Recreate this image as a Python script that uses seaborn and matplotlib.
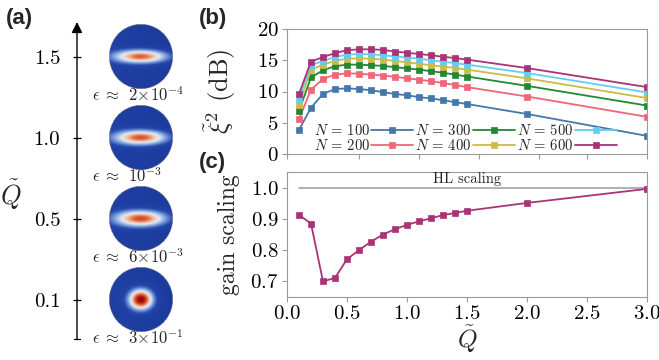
import numpy as np
import pandas as pd
import matplotlib
matplotlib.use("Agg")
import matplotlib.pyplot as plt
from matplotlib.colors import LinearSegmentedColormap
import seaborn as sns

# ---------------- data ----------------
Q = [0.1, 0.2, 0.3, 0.4, 0.5, 0.6, 0.7, 0.8, 0.9, 1.0, 1.1, 1.2, 1.3, 1.4, 1.5, 2.0, 3.0]
N_values = [100, 200, 300, 400, 500, 600]
xi_N100 = [3.85, 7.4, 9.6, 10.4, 10.5, 10.4, 10.2, 9.9, 9.6, 9.4, 9.1, 8.9, 8.6, 8.3, 8.0, 6.4, 2.9]
xi_N200 = [5.6, 10.3, 12.0, 12.7, 12.9, 12.85, 12.7, 12.55, 12.35, 12.1, 11.9, 11.65, 11.35, 11.05, 10.7, 9.2, 5.95]
xi_N300 = [6.9, 12.25, 13.4, 14.05, 14.3, 14.3, 14.2, 14.1, 13.9, 13.7, 13.5, 13.25, 13.0, 12.7, 12.4, 10.9, 7.75]
xi_N400 = [7.9, 13.5, 14.3, 14.9, 15.25, 15.3, 15.25, 15.1, 14.9, 14.65, 14.45, 14.2, 14.0, 13.75, 13.5, 12.1, 8.95]
xi_N500 = [8.8, 14.2, 14.9, 15.5, 15.9, 16.0, 15.95, 15.8, 15.6, 15.45, 15.25, 15.0, 14.75, 14.55, 14.3, 12.95, 9.85]
xi_N600 = [9.6, 14.8, 15.5, 16.15, 16.6, 16.75, 16.75, 16.65, 16.4, 16.2, 16.0, 15.8, 15.55, 15.35, 15.1, 13.75, 10.7]
gain = [0.913, 0.885, 0.700, 0.711, 0.771, 0.800, 0.827, 0.850, 0.867, 0.881, 0.892, 0.902, 0.912, 0.919, 0.926, 0.951, 0.996]
HL_level = 1.0
HL_range = [0.1, 3.0]

panel_a_Q = ["0.1", "0.5", "1.0", "1.5"]
panel_a_eps = [r"$\epsilon\;\approx\;\,3\!\times\!10^{-1}$", r"$\epsilon\;\approx\;\,6\!\times\!10^{-3}$",
               r"$\epsilon\;\approx\;\,10^{-3}$", r"$\epsilon\;\approx\;\,2\!\times\!10^{-4}$"]

colors = ["#4477AA", "#EE6677", "#228833", "#CCBB44", "#66CCEE", "#AA3377"]

# ---------------- style ----------------
sns.set_theme(style="ticks")
plt.rcParams.update({
    "font.family": "serif",
    "font.serif": ["cmr10"],
    "mathtext.fontset": "cm",
    "axes.formatter.use_mathtext": True,
    "axes.unicode_minus": False,
    "axes.edgecolor": "#9a9a9a",
    "axes.linewidth": 0.8,
    "xtick.color": "#9a9a9a",
    "ytick.color": "#9a9a9a",
    "xtick.labelcolor": "black",
    "ytick.labelcolor": "black",
    "xtick.major.size": 3.5,
    "ytick.major.size": 3.5,
    "xtick.major.width": 0.8,
    "ytick.major.width": 0.8,
    "xtick.labelsize": 15,
    "ytick.labelsize": 15,
})

W, H = 659, 360
fig = plt.figure(figsize=(W / 100, H / 100), dpi=100)

def rect(l, t, r, b):
    return [l / W, 1 - b / H, (r - l) / W, (b - t) / H]

ax_b = fig.add_axes(rect(287, 29, 647, 154))
ax_c = fig.add_axes(rect(287, 172, 647, 297))
ax_a = fig.add_axes(rect(77, 22, 200, 339))

# ---------------- panel (b) ----------------
series = [xi_N100, xi_N200, xi_N300, xi_N400, xi_N500, xi_N600]
for N, ys, c in zip(N_values, series, colors):
    sns.lineplot(x=Q, y=ys, ax=ax_b, color=c, marker="s", markersize=4.2,
                 markeredgecolor=c, markeredgewidth=0.5, linewidth=1.3,
                 label=rf"$N\,=\,{N}$")
ax_b.set_xlim(0, 3)
ax_b.set_ylim(0, 20)
ax_b.set_yticks([0, 5, 10, 15, 20])
ax_b.set_xticks([0, 0.6, 1.1, 1.6, 2.1, 2.5, 3.0])
ax_b.set_xticklabels([])
ax_b.tick_params(axis="y", pad=2.5)
ax_b.set_ylabel(r"$\tilde{\xi}^2$ (dB)", fontsize=19)
ax_b.yaxis.set_label_coords(-0.135, 0.5)
leg = ax_b.legend(ncol=3, loc="lower left", bbox_to_anchor=(0.045, -0.075), frameon=False,
                  markerfirst=False, fontsize=10.6, handlelength=2.85, handletextpad=0.12,
                  columnspacing=0.12, labelspacing=0.0, borderpad=0.2)

# ---------------- panel (c) ----------------
sns.lineplot(x=HL_range, y=[HL_level, HL_level], ax=ax_c, color="#aaaaaa", linewidth=1.3)
sns.lineplot(x=Q, y=gain, ax=ax_c, color=colors[5], marker="s", markersize=4.2,
             markeredgecolor=colors[5], markeredgewidth=0.5, linewidth=1.3)
ax_c.text(1.5, HL_level + 0.005, "HL scaling", ha="center", va="bottom", fontsize=10.5)
ax_c.set_xlim(0, 3)
ax_c.set_ylim(0.65, 1.05)
ax_c.set_yticks([0.7, 0.8, 0.9, 1.0])
ax_c.set_xticks([0, 0.5, 1.0, 1.5, 2.0, 2.5, 3.0])
ax_c.tick_params(axis="both", pad=2.5)
ax_c.set_ylabel("gain scaling", fontsize=17)
ax_c.yaxis.set_label_coords(-0.13, 0.5)
ax_c.set_xlabel(r"$\tilde{Q}$", fontsize=18, labelpad=0)

# ---------------- panel (a) ----------------
for s in ["top", "right", "bottom", "left"]:
    ax_a.spines[s].set_visible(False)
ax_a.set_xlim(0, 123)
ax_a.set_ylim(-0.48, 3.43)
ax_a.set_xticks([])
ax_a.set_yticks(range(len(panel_a_Q)), labels=panel_a_Q)
ax_a.tick_params(axis="y", direction="inout", length=6, color="black", width=0.9, pad=9, labelsize=15)
ax_a.annotate("", xy=(0, 1.0), xytext=(0, 0.0), xycoords="axes fraction",
              arrowprops=dict(arrowstyle="-|>", color="black", lw=1.0, mutation_scale=16,
                              shrinkA=0, shrinkB=0))
ax_a.plot([-3, 3], [-0.48, -0.48], color="black", lw=0.9, clip_on=False)
ax_a.text(-0.54, 0.455, r"$\tilde{Q}$", fontsize=19, ha="center", va="center",
          transform=ax_a.transAxes)

cmap = LinearSegmentedColormap.from_list(
    "sph", [(0.0, "#1b3a9c"), (0.15, "#2446ab"), (0.33, "#86a8e0"), (0.5, "#e4ecf6"),
            (0.64, "#f3bfa0"), (0.8, "#dc5a36"), (1.0, "#a30808")])
cmap.set_bad(alpha=0)

# (sx, sy, peak) shape of the squeezed distribution on each sphere
shapes = [(0.36, 0.3, 1.0), (0.78, 0.24, 0.8), (0.8, 0.22, 0.78), (0.82, 0.2, 0.76)]
g = np.linspace(-1, 1, 161)
X, Y = np.meshgrid(g, g)
R = np.sqrt(X ** 2 + Y ** 2)
cx, rx, ry = 64, 32, 32 / 81.0
for i, ((sx, sy, pk), lab) in enumerate(zip(shapes, panel_a_eps)):
    field = pk * np.exp(-(X / sx) ** 2 - (Y / sy) ** 2) + 0.04 - 0.03 * X
    field = np.where(R <= 1, field, np.nan)
    ax_a.imshow(field, cmap=cmap, vmin=0, vmax=1, extent=[cx - rx, cx + rx, i - ry, i + ry],
                aspect="auto", interpolation="bilinear", origin="lower", zorder=2)
    ax_a.text(15, i - 0.465, lab, fontsize=12, ha="left", va="center")

# ---------------- panel labels ----------------
for lab, x, y in [("(a)", 6, 8), ("(b)", 199, 8), ("(c)", 199, 152)]:
    fig.text(x / W, 1 - y / H, lab, fontsize=16, fontweight="bold",
             family="Liberation Sans", ha="left", va="top")

fig.savefig("out.png", dpi=100)
